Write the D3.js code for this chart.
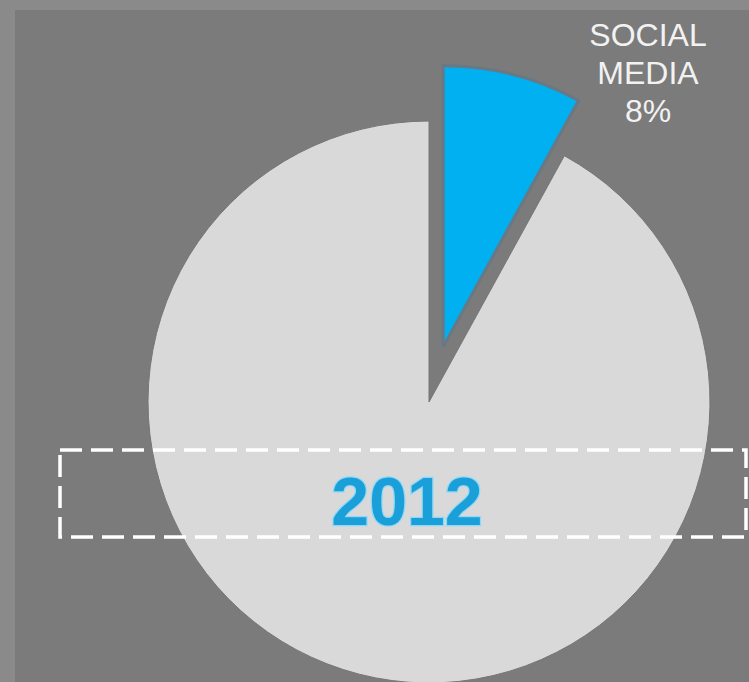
<!DOCTYPE html>
<html>
<head>
<meta charset="utf-8">
<script src="https://cdn.jsdelivr.net/npm/d3@7"></script>
<style>
  html, body { margin: 0; padding: 0; background: #8a8a8a; }
  svg { display: block; }
</style>
</head>
<body>
<svg id="chart" width="749" height="682"></svg>
<script>
// Share of channel, 2012
const categories = ["SOCIAL MEDIA", "OTHER"];
const shares = [8, 92];
const labelLines = ["SOCIAL", "MEDIA", "8%"];
const yearLabel = "2012";

const W = 749, H = 682;
const svg = d3.select("#chart");

// outer frame and inner panel
svg.append("rect").attr("width", W).attr("height", H).attr("fill", "#8a8a8a");
svg.append("rect").attr("x", 15).attr("y", 10).attr("width", W - 15).attr("height", H - 10)
  .attr("fill", "#7b7b7b");

const cx = 429, cy = 402, R = 281, explode = 57;

const pie = d3.pie().sort(null).startAngle(0).endAngle(2 * Math.PI).value(d => d.value);
const arcs = pie(categories.map((c, i) => ({ name: c, value: shares[i] })));
const arc = d3.arc().innerRadius(0).outerRadius(R);

const color = d3.scaleOrdinal().domain(categories).range(["#00b0f0", "#d9d9d9"]);

const g = svg.append("g").attr("transform", `translate(${cx},${cy})`);

g.selectAll("path.slice")
  .data(arcs)
  .join("path")
  .attr("class", "slice")
  .attr("d", arc)
  .attr("transform", d => {
    if (d.index !== 0) return null;
    const a = (d.startAngle + d.endAngle) / 2;
    return `translate(${explode * Math.sin(a)},${-explode * Math.cos(a)})`;
  })
  .attr("fill", d => color(d.data.name))
  .attr("stroke", d => d.index === 0 ? "#687884" : "#767676")
  .attr("stroke-width", d => d.index === 0 ? 3 : 1)
  .attr("stroke-linejoin", "miter");

// slice label
const lbl = svg.append("text")
  .attr("x", 648)
  .attr("y", 46)
  .attr("text-anchor", "middle")
  .attr("fill", "#f2f2f2")
  .attr("font-family", "'Liberation Sans', Arial, sans-serif")
  .attr("font-size", 32);
labelLines.forEach((t, i) => {
  lbl.append("tspan").attr("x", 648).attr("dy", i === 0 ? 0 : 38).text(t);
});

// dashed year band
svg.append("rect")
  .attr("x", 60).attr("y", 450)
  .attr("width", 686).attr("height", 87)
  .attr("fill", "none")
  .attr("stroke", "#ffffff")
  .attr("stroke-width", 3.5)
  .attr("stroke-dasharray", "22 9");

svg.append("text")
  .attr("x", 407)
  .attr("y", 525)
  .attr("text-anchor", "middle")
  .attr("fill", "#1a9fd9")
  .attr("stroke", "#8fd9f7")
  .attr("stroke-width", 2.5)
  .attr("paint-order", "stroke")
  .attr("font-family", "'Liberation Sans', Arial, sans-serif")
  .attr("font-weight", "bold")
  .attr("font-size", 68)
  .text(yearLabel);
</script>
</body>
</html>
